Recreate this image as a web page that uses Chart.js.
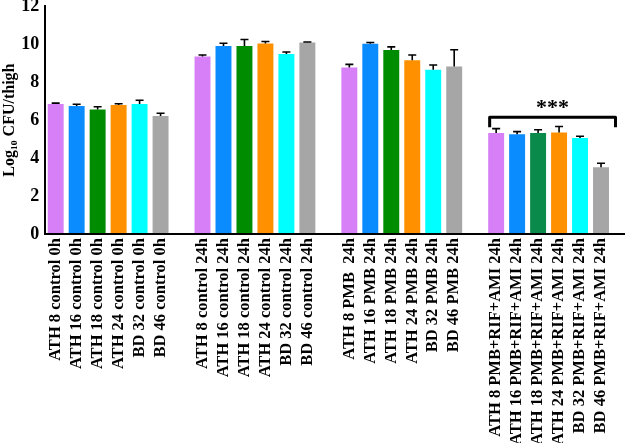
<!DOCTYPE html>
<html>
<head>
<meta charset="utf-8">
<script src="https://cdn.jsdelivr.net/npm/chart.js@4"></script>
<style>
    html, body { margin: 0; padding: 0; background: #fff; }
    #wrap { width: 625px; height: 443px; }
</style>
</head>
<body>
<div id="wrap"><canvas id="cfuChart" width="625" height="443"></canvas></div>
<script>
// categories (empty strings are the gaps between groups)
const labels = [
    'ATH 8 control 0h', 'ATH 16 control 0h', 'ATH 18 control 0h', 'ATH 24 control 0h', 'BD 32 control 0h', 'BD 46 control 0h',
    '',
    'ATH 8 control 24h', 'ATH 16 control 24h', 'ATH 18 control 24h', 'ATH 24 control 24h', 'BD 32 control 24h', 'BD 46 control 24h',
    '',
    'ATH 8 PMB  24h', 'ATH 16 PMB 24h', 'ATH 18 PMB 24h', 'ATH 24 PMB 24h', 'BD 32 PMB 24h', 'BD 46 PMB 24h',
    '',
    'ATH 8 PMB+RIF+AMI 24h', 'ATH 16 PMB+RIF+AMI 24h', 'ATH 18 PMB+RIF+AMI 24h', 'ATH 24 PMB+RIF+AMI 24h', 'BD 32 PMB+RIF+AMI 24h', 'BD 46 PMB+RIF+AMI 24h'
];

// mean log10 CFU per thigh
const values = [
    6.84, 6.74, 6.56, 6.79, 6.84, 6.21,
    null,
    9.35, 9.90, 9.90, 10.03, 9.48, 10.08,
    null,
    8.77, 10.01, 9.69, 9.14, 8.65, 8.82,
    null,
    5.32, 5.25, 5.32, 5.34, 5.06, 3.52
];

// upper error (SD)
const errors = [
    0.05, 0.09, 0.14, 0.07, 0.20, 0.15,
    null,
    0.07, 0.14, 0.34, 0.10, 0.10, 0.03,
    null,
    0.16, 0.07, 0.16, 0.28, 0.25, 0.88,
    null,
    0.23, 0.14, 0.17, 0.32, 0.09, 0.21
];

const colors = [
    '#d67ff7', '#0a8cff', '#008c00', '#ff9000', '#00ffff', '#a6a6a6',
    null,
    '#d67ff7', '#0a8cff', '#008c00', '#ff9000', '#00ffff', '#a6a6a6',
    null,
    '#d67ff7', '#0a8cff', '#008c00', '#ff9000', '#00ffff', '#a6a6a6',
    null,
    '#d67ff7', '#0a8cff', '#0a8a4a', '#ff9000', '#00ffff', '#a6a6a6'
];

const yTicks = [0, 2, 4, 6, 8, 10, 12];

// significance bracket over the last group
const bracketFrom = 21;
const bracketTo = 26;
const bracketLevel = 6.15;
const bracketText = '***';

const fontFamily = '"Liberation Serif", "Times New Roman", serif';

const errorBars = {
    id: 'errorBars',
    afterDatasetsDraw(chart) {
        const ctx = chart.ctx;
        const meta = chart.getDatasetMeta(0);
        const y = chart.scales.y;
        ctx.save();
        ctx.strokeStyle = '#000';
        ctx.lineWidth = 1.6;
        meta.data.forEach(function (bar, i) {
            if (values[i] == null) return;
            const top = y.getPixelForValue(values[i]);
            const end = y.getPixelForValue(values[i] + errors[i]);
            ctx.beginPath();
            ctx.moveTo(bar.x, top);
            ctx.lineTo(bar.x, end);
            ctx.moveTo(bar.x - 4, end);
            ctx.lineTo(bar.x + 4, end);
            ctx.stroke();
        });
        ctx.restore();
    }
};

const bracket = {
    id: 'bracket',
    afterDatasetsDraw(chart) {
        const ctx = chart.ctx;
        const x = chart.scales.x;
        const y = chart.scales.y;
        const half = (x.getPixelForValue(1) - x.getPixelForValue(0)) / 2;
        const x0 = x.getPixelForValue(bracketFrom) - half + 4;
        const x1 = x.getPixelForValue(bracketTo) + half + 4;
        const yb = y.getPixelForValue(bracketLevel);
        ctx.save();
        ctx.strokeStyle = '#000';
        ctx.lineWidth = 3;
        ctx.lineJoin = 'round';
        ctx.beginPath();
        ctx.moveTo(x0, yb + 10);
        ctx.lineTo(x0, yb);
        ctx.lineTo(x1, yb);
        ctx.lineTo(x1, yb + 10);
        ctx.stroke();
        ctx.fillStyle = '#000';
        ctx.font = 'bold 22px ' + fontFamily;
        ctx.textAlign = 'center';
        ctx.textBaseline = 'alphabetic';
        ctx.fillText(bracketText, (x0 + x1) / 2, yb - 3);
        ctx.restore();
    }
};

// the original baseline runs on to the right edge of the figure
const baselineExtend = {
    id: 'baselineExtend',
    afterDraw(chart) {
        const ctx = chart.ctx;
        const area = chart.chartArea;
        const yLine = Math.round(chart.scales.x.top);
        ctx.save();
        ctx.strokeStyle = '#000';
        ctx.lineWidth = 2;
        ctx.beginPath();
        ctx.moveTo(area.left, yLine);
        ctx.lineTo(chart.width, yLine);
        ctx.stroke();
        ctx.restore();
    }
};

new Chart(document.getElementById('cfuChart'), {
    type: 'bar',
    data: {
        labels: labels,
        datasets: [{
            data: values,
            backgroundColor: colors,
            borderWidth: 0,
            categoryPercentage: 1.0,
            barPercentage: 0.76
        }]
    },
    options: {
        responsive: false,
        animation: false,
        layout: { padding: { top: 6, right: 10, left: 0, bottom: -6 } },
        plugins: {
            legend: { display: false },
            tooltip: { enabled: false }
        },
        scales: {
            x: {
                grid: { display: false, drawTicks: false },
                border: { color: '#000', width: 2 },
                ticks: {
                    color: '#000',
                    autoSkip: false,
                    maxRotation: 90,
                    minRotation: 90,
                    padding: 4,
                    font: { family: fontFamily, size: 16.5, weight: 'bold' }
                }
            },
            y: {
                min: 0,
                max: 12,
                afterBuildTicks: function (axis) {
                    axis.ticks = yTicks.map(function (v) { return { value: v }; });
                },
                afterFit: function (axis) {
                    // let the top tick label sit near the canvas edge like the original
                    axis.paddingTop = 0;
                },
                grid: { display: false, drawOnChartArea: false, drawTicks: true, tickLength: 5, tickColor: '#000', tickWidth: 2 },
                border: { color: '#000', width: 2 },
                ticks: {
                    color: '#000',
                    padding: 1,
                    font: { family: fontFamily, size: 18, weight: 'bold' }
                },
                title: {
                    display: true,
                    text: 'Log₁₀ CFU/thigh',
                    color: '#000',
                    padding: { top: 0, bottom: 1 },
                    font: { family: fontFamily, size: 16, weight: 'bold' }
                }
            }
        }
    },
    plugins: [errorBars, bracket, baselineExtend]
});
</script>
</body>
</html>
